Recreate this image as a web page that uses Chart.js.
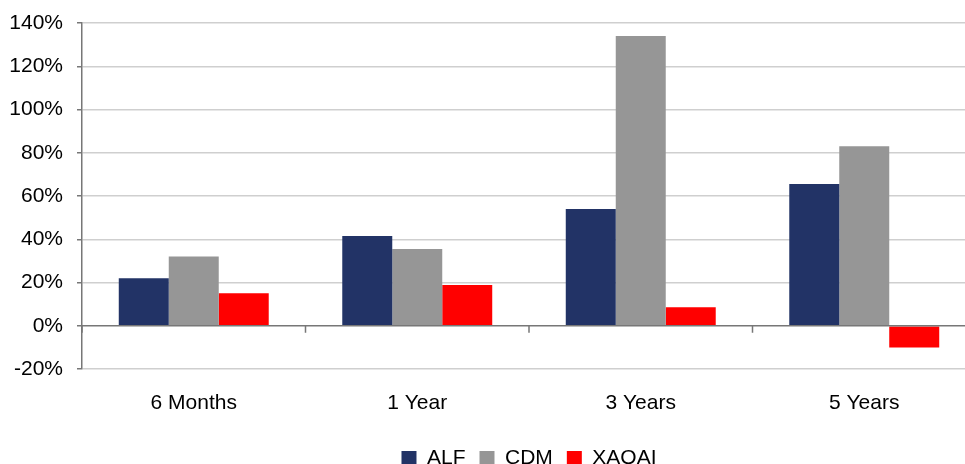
<!DOCTYPE html>
<html>
<head>
<meta charset="utf-8">
<title>Performance comparison</title>
<script src="https://cdn.jsdelivr.net/npm/chart.js@4/dist/chart.umd.min.js"></script>
<style>
  html, body { margin: 0; padding: 0; background: #fff; overflow: hidden; }
  #wrap { position: absolute; left: 0; top: 0; width: 976px; height: 479px; }
</style>
</head>
<body>
<div id="wrap"><canvas id="chart" width="976" height="479"></canvas></div>
<script>
// Periods and total returns (%)
const categories = ['6 Months', '1 Year', '3 Years', '5 Years'];
const alfValues = [22, 41.5, 54, 65.5];
const cdmValues = [32, 35.5, 134, 83];
const xaoaiValues = [15, 18.8, 8.5, -10];
const seriesNames = ['ALF', 'CDM', 'XAOAI'];
const seriesColors = ['#223366', '#969696', '#ff0000'];
const yMin = -20, yMax = 140, yStep = 20;

const FONT = 'Liberation Sans, Arial, sans-serif';

// Zero line over the bars plus short boundary ticks under it
const zeroAxisPlugin = {
  id: 'zeroAxis',
  afterDatasetsDraw(chart) {
    const { ctx, chartArea, scales } = chart;
    const x = scales.x, y = scales.y;
    const y0 = y.getPixelForValue(0);
    ctx.save();
    ctx.strokeStyle = '#777777';
    ctx.lineWidth = 1.5;
    ctx.beginPath();
    ctx.moveTo(chartArea.left, y0);
    ctx.lineTo(chartArea.right, y0);
    const step = categories.length > 1 ? x.getPixelForTick(1) - x.getPixelForTick(0) : chartArea.width;
    for (let i = 0; i <= categories.length; i++) {
      const bx = x.getPixelForTick(0) - step / 2 + i * step;
      ctx.moveTo(bx, y0);
      ctx.lineTo(bx, y0 + 7);
    }
    ctx.stroke();
    ctx.restore();
  }
};

new Chart(document.getElementById('chart'), {
  type: 'bar',
  data: {
    labels: categories,
    datasets: [alfValues, cdmValues, xaoaiValues].map((vals, i) => ({
      label: seriesNames[i],
      data: vals,
      backgroundColor: seriesColors[i],
      borderWidth: 0,
      categoryPercentage: 0.671,
      barPercentage: 1.0
    }))
  },
  options: {
    responsive: false,
    animation: false,
    layout: { padding: { top: 23, right: 0, left: 0, bottom: 0 } },
    plugins: {
      legend: {
        position: 'bottom',
        fullSize: false,
        labels: {
          color: '#000',
          font: { family: FONT, size: 21 },
          boxWidth: 15,
          boxHeight: 15,
          padding: 14
        }
      },
      tooltip: { enabled: false }
    },
    scales: {
      x: {
        grid: { display: false },
        border: { display: false },
        ticks: {
          color: '#000',
          font: { family: FONT, size: 21 },
          padding: 14,
          maxRotation: 0
        },
        afterFit(scale) { scale.height = 65; }
      },
      y: {
        min: yMin,
        max: yMax,
        ticks: {
          stepSize: yStep,
          color: '#000',
          font: { family: FONT, size: 21 },
          padding: 14,
          callback: v => v + '%'
        },
        grid: {
          color: ctx => (ctx.tick && ctx.tick.value === 0) ? 'rgba(0,0,0,0)' : '#cfcfcf',
          lineWidth: 1.5,
          tickColor: '#777777',
          tickLength: 5
        },
        border: { display: true, color: '#777777', width: 1.5 },
        afterFit(scale) {
          scale.width = 82;
          scale.paddingTop = 0;
          scale.paddingBottom = 0;
        }
      }
    }
  },
  plugins: [zeroAxisPlugin]
});
</script>
</body>
</html>
